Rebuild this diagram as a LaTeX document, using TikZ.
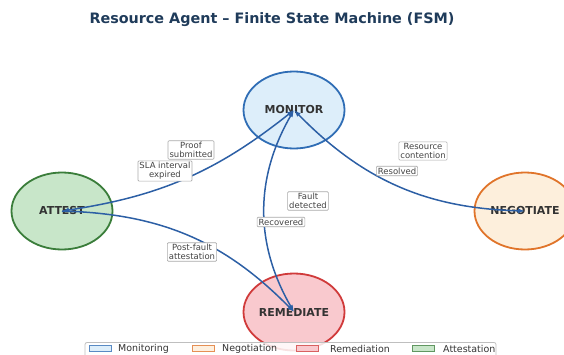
\documentclass[tikz,border=0pt]{standalone}
\usepackage{fontspec}
\setmainfont{DejaVu Sans}
\usetikzlibrary{shapes.geometric,arrows.meta}

\definecolor{titlenavy}{HTML}{1F3B5A}
\definecolor{edgeblue}{HTML}{2C5FA5}
\definecolor{statetext}{HTML}{333333}
\definecolor{monfill}{HTML}{DDEEFA}
\definecolor{mondraw}{HTML}{2F6DB5}
\definecolor{negfill}{HTML}{FDEFDC}
\definecolor{negdraw}{HTML}{E0742A}
\definecolor{remfill}{HTML}{F9C9CE}
\definecolor{remdraw}{HTML}{D03A3A}
\definecolor{attfill}{HTML}{C8E6C9}
\definecolor{attdraw}{HTML}{3A7D3A}
\definecolor{lblborder}{HTML}{AAAAAA}
\definecolor{lbltext}{HTML}{444444}

\tikzset{
  state/.style={ellipse, minimum width=101bp, minimum height=77bp, inner sep=0pt,
    line width=1.8bp, text=statetext,
    font=\fontsize{11}{13}\selectfont\bfseries},
  trans/.style={draw=edgeblue, line width=1.5bp,
    {Latex[length=7bp,width=5bp]}-{Latex[length=7bp,width=5bp]}},
  transone/.style={draw=edgeblue, line width=1.5bp, -{Latex[length=7bp,width=5bp]}},
  tlabel/.style={draw=lblborder, fill=white, line width=0.6bp, rounded corners=1bp,
    inner sep=1.5bp, align=center, text=lbltext,
    font=\fontsize{8.5}{9}\selectfont},
  legpatch/.style={line width=1bp, minimum width=22bp, minimum height=6bp, inner sep=0pt},
  legtext/.style={anchor=west, inner sep=0pt, text=black!80,
    font=\fontsize{9.5}{11}\selectfont},
}

\begin{document}
\begin{tikzpicture}[x=1bp, y=1bp]
\useasboundingbox (0,0) rectangle (564,354);

% title
\node[text=titlenavy, font=\fontsize{14.4}{16}\selectfont\bfseries] (title) at (272,334)
  {Resource Agent – Finite State Machine (FSM)};

% states
\node[state, fill=monfill, draw=mondraw] (mon) at (294,244) {MONITOR};
\node[state, fill=attfill, draw=attdraw] (att) at (62,143) {ATTEST};
\node[state, fill=negfill, draw=negdraw] (neg) at (525,143) {NEGOTIATE};
\node[state, fill=remfill, draw=remdraw] (rem) at (294,42) {REMEDIATE};

% transitions
\draw[trans] (att.center) to[bend right=15] (mon.center);
\draw[trans] (mon.center) to[bend right=30] (rem.center);
\draw[transone] (att.center) to[bend left=22] (rem.center);
\draw[trans] (neg.center) to[bend left=22] (mon.center);

% transition labels
\node[tlabel] (lproof) at (191,204) {Proof\\submitted};
\node[tlabel] (lsla) at (165,183) {SLA interval\\expired};
\node[tlabel] (lfault) at (308,153) {Fault\\detected};
\node[tlabel] (lrecov) at (281,132) {Recovered};
\node[tlabel] (lpost) at (192,102) {Post-fault\\attestation};
\node[tlabel] (lres) at (423,203) {Resource\\contention};
\node[tlabel] (lresolved) at (397,183) {Resolved};

% legend
\draw[draw=black!25, fill=white, fill opacity=0.85, line width=0.8bp, rounded corners=2bp]
  (85,-6) rectangle (496,11.5);
\node[legpatch, fill=monfill, draw=mondraw!80] (pmon) at (100.5,5.5) {};
\node[legtext] (tmon) at (118,5.5) {Monitoring};
\node[legpatch, fill=negfill!80!orange!40, draw=negdraw!80] (pneg) at (203.5,5.5) {};
\node[legtext] (tneg) at (222,5.5) {Negotiation};
\node[legpatch, fill=remfill, draw=remdraw!80] (prem) at (307.5,5.5) {};
\node[legtext] (trem) at (330,5.5) {Remediation};
\node[legpatch, fill=attfill, draw=attdraw!80] (patt) at (423,5.5) {};
\node[legtext] (tatt) at (443,5.5) {Attestation};
\end{tikzpicture}
\end{document}
